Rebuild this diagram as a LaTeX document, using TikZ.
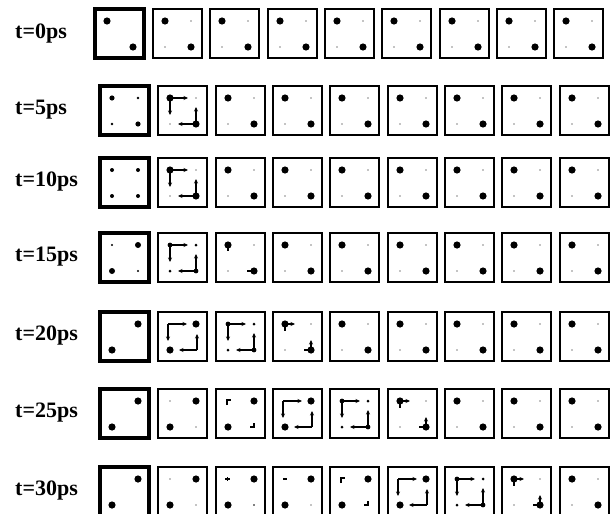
\documentclass[tikz,border=0pt]{standalone}
\usepackage{fontspec}
\setmainfont{Liberation Serif}
\usetikzlibrary{arrows.meta}
\tikzset{
  thinbox/.style={draw, line width=1.4pt},
  thickbox/.style={draw, line width=3.6pt},
  arr/.style={line width=1.1pt, -{Stealth[length=4.5pt,width=4pt]}},
  stub/.style={line width=1.1pt},
  lbl/.style={anchor=west, font=\bfseries\fontsize{22}{24}\selectfont, inner sep=0pt},
}
\newcommand\cellbox[4]{\begin{scope}[shift={(#1,#2)}]\draw[#3] (0,0) rectangle (49,49); #4\end{scope}}
\newcommand\dotat[3]{\fill (#1,#2) circle (#3);}
% state: big dots top-left and bottom-right
\newcommand\stA{\dotat{12}{12}{3.6}\dotat{38}{38}{3.6}\dotat{38}{12}{0.6}\dotat{12}{38}{0.6}}
% state: big dots top-right and bottom-left
\newcommand\stB{\dotat{38}{12}{3.6}\dotat{12}{38}{3.6}\dotat{12}{12}{0.6}\dotat{38}{38}{0.6}}
% full arrows from TL and BR
\newcommand\fullarr{\draw[arr] (12,12) -- (30,12); \draw[arr] (12,12) -- (12,29);
  \draw[arr] (38,38) -- (38,21); \draw[arr] (38,38) -- (20,38);}
% full arrows with medium dots
\newcommand\stMid{\dotat{12}{12}{2.4}\dotat{38}{38}{2.4}\dotat{38}{12}{1.5}\dotat{12}{38}{1.5}\fullarr}
% corner arrows, big TR / BL dots
\newcommand\stCorner{\dotat{38}{12}{3.6}\dotat{12}{38}{3.6}
  \draw[arr] (10,12) -- (29,12); \draw[arr] (10,12) -- (10,29);
  \draw[arr] (39,38) -- (39,22); \draw[arr] (39,38) -- (21,38);}
% short arrows, big TL / BR dots
\newcommand\stShort{\stA \draw[arr] (12,12) -- (22,12); \draw[stub] (12,12) -- (12,19);
  \draw[arr] (38,38) -- (38,28); \draw[stub] (38,38) -- (31,38);}
% corner ticks, big TR / BL dots
\newcommand\stTick{\dotat{38}{12}{3.6}\dotat{12}{38}{3.6}
  \draw[stub] (11,16) -- (11,11) -- (15,11); \draw[stub] (34,38) -- (38,38) -- (38,34);}
\begin{document}
\begin{tikzpicture}[x=1pt,y=-1pt]
\useasboundingbox (0,0) rectangle (611,514);
\fill[white] (0,0) rectangle (611,514);

% ---------- t=0ps ----------
\node[lbl] (l0) at (15,34) {t=0ps};
\cellbox{95}{9}{thickbox}{\dotat{12}{12}{3.6}\dotat{38}{38}{3.6}}
\cellbox{153}{9}{thinbox}{\stA}
\cellbox{210}{9}{thinbox}{\stA}
\cellbox{268}{9}{thinbox}{\stA}
\cellbox{325}{9}{thinbox}{\stA}
\cellbox{382}{9}{thinbox}{\stA}
\cellbox{440}{9}{thinbox}{\stA}
\cellbox{497}{9}{thinbox}{\stA}
\cellbox{554}{9}{thinbox}{\stA}

% ---------- t=5ps ----------
\node[lbl] (l1) at (15,110) {t=5ps};
\cellbox{100}{86}{thickbox}{\dotat{12}{12}{2.6}\dotat{38}{38}{2.6}\dotat{38}{12}{1.4}\dotat{12}{38}{1.4}}
\cellbox{158}{86}{thinbox}{\stA\fullarr}
\cellbox{216}{86}{thinbox}{\stA}
\cellbox{273}{86}{thinbox}{\stA}
\cellbox{330}{86}{thinbox}{\stA}
\cellbox{388}{86}{thinbox}{\stA}
\cellbox{445}{86}{thinbox}{\stA}
\cellbox{502}{86}{thinbox}{\stA}
\cellbox{560}{86}{thinbox}{\stA}

% ---------- t=10ps ----------
\node[lbl] (l2) at (15,182) {t=10ps};
\cellbox{100}{158}{thickbox}{\dotat{12}{12}{2}\dotat{38}{38}{2}\dotat{38}{12}{2}\dotat{12}{38}{2}}
\cellbox{158}{158}{thinbox}{\stA\fullarr}
\cellbox{216}{158}{thinbox}{\stA}
\cellbox{273}{158}{thinbox}{\stA}
\cellbox{330}{158}{thinbox}{\stA}
\cellbox{388}{158}{thinbox}{\stA}
\cellbox{445}{158}{thinbox}{\stA}
\cellbox{502}{158}{thinbox}{\stA}
\cellbox{560}{158}{thinbox}{\stA}

% ---------- t=15ps ----------
\node[lbl] (l3) at (15,257) {t=15ps};
\cellbox{100}{233}{thickbox}{\dotat{38}{12}{3}\dotat{12}{38}{3}\dotat{12}{12}{1.1}\dotat{38}{38}{1.1}}
\cellbox{158}{233}{thinbox}{\stMid}
\cellbox{216}{233}{thinbox}{\stA\draw[stub] (12,12) -- (12,18); \draw[stub] (38,38) -- (31,38);}
\cellbox{273}{233}{thinbox}{\stA}
\cellbox{330}{233}{thinbox}{\stA}
\cellbox{388}{233}{thinbox}{\stA}
\cellbox{445}{233}{thinbox}{\stA}
\cellbox{502}{233}{thinbox}{\stA}
\cellbox{560}{233}{thinbox}{\stA}

% ---------- t=20ps ----------
\node[lbl] (l4) at (15,336) {t=20ps};
\cellbox{100}{312}{thickbox}{\dotat{38}{12}{3.6}\dotat{12}{38}{3.6}}
\cellbox{158}{312}{thinbox}{\stCorner}
\cellbox{216}{312}{thinbox}{\stMid}
\cellbox{273}{312}{thinbox}{\stShort}
\cellbox{330}{312}{thinbox}{\stA}
\cellbox{388}{312}{thinbox}{\stA}
\cellbox{445}{312}{thinbox}{\stA}
\cellbox{502}{312}{thinbox}{\stA}
\cellbox{560}{312}{thinbox}{\stA}

% ---------- t=25ps ----------
\node[lbl] (l5) at (15,413) {t=25ps};
\cellbox{100}{389}{thickbox}{\dotat{38}{12}{3.6}\dotat{12}{38}{3.6}}
\cellbox{158}{389}{thinbox}{\stB}
\cellbox{216}{389}{thinbox}{\stTick}
\cellbox{273}{389}{thinbox}{\stCorner}
\cellbox{330}{389}{thinbox}{\stMid}
\cellbox{388}{389}{thinbox}{\stShort}
\cellbox{445}{389}{thinbox}{\stA}
\cellbox{502}{389}{thinbox}{\stA}
\cellbox{560}{389}{thinbox}{\stA}

% ---------- t=30ps ----------
\node[lbl] (l6) at (15,491) {t=30ps};
\cellbox{100}{467}{thickbox}{\dotat{38}{12}{3.6}\dotat{12}{38}{3.6}}
\cellbox{158}{467}{thinbox}{\stB}
\cellbox{216}{467}{thinbox}{\dotat{38}{12}{3.6}\dotat{12}{38}{3.6}\draw[stub] (9,12) -- (14,12); \draw[stub] (11.5,10) -- (11.5,14); \dotat{38}{38}{0.8}}
\cellbox{273}{467}{thinbox}{\dotat{38}{12}{3.6}\dotat{12}{38}{3.6}\draw[stub] (10,12) -- (14,12); \dotat{38}{38}{0.7}}
\cellbox{330}{467}{thinbox}{\stTick}
\cellbox{388}{467}{thinbox}{\stCorner}
\cellbox{445}{467}{thinbox}{\stMid}
\cellbox{502}{467}{thinbox}{\stShort}
\cellbox{560}{467}{thinbox}{\stA}
\end{tikzpicture}
\end{document}
